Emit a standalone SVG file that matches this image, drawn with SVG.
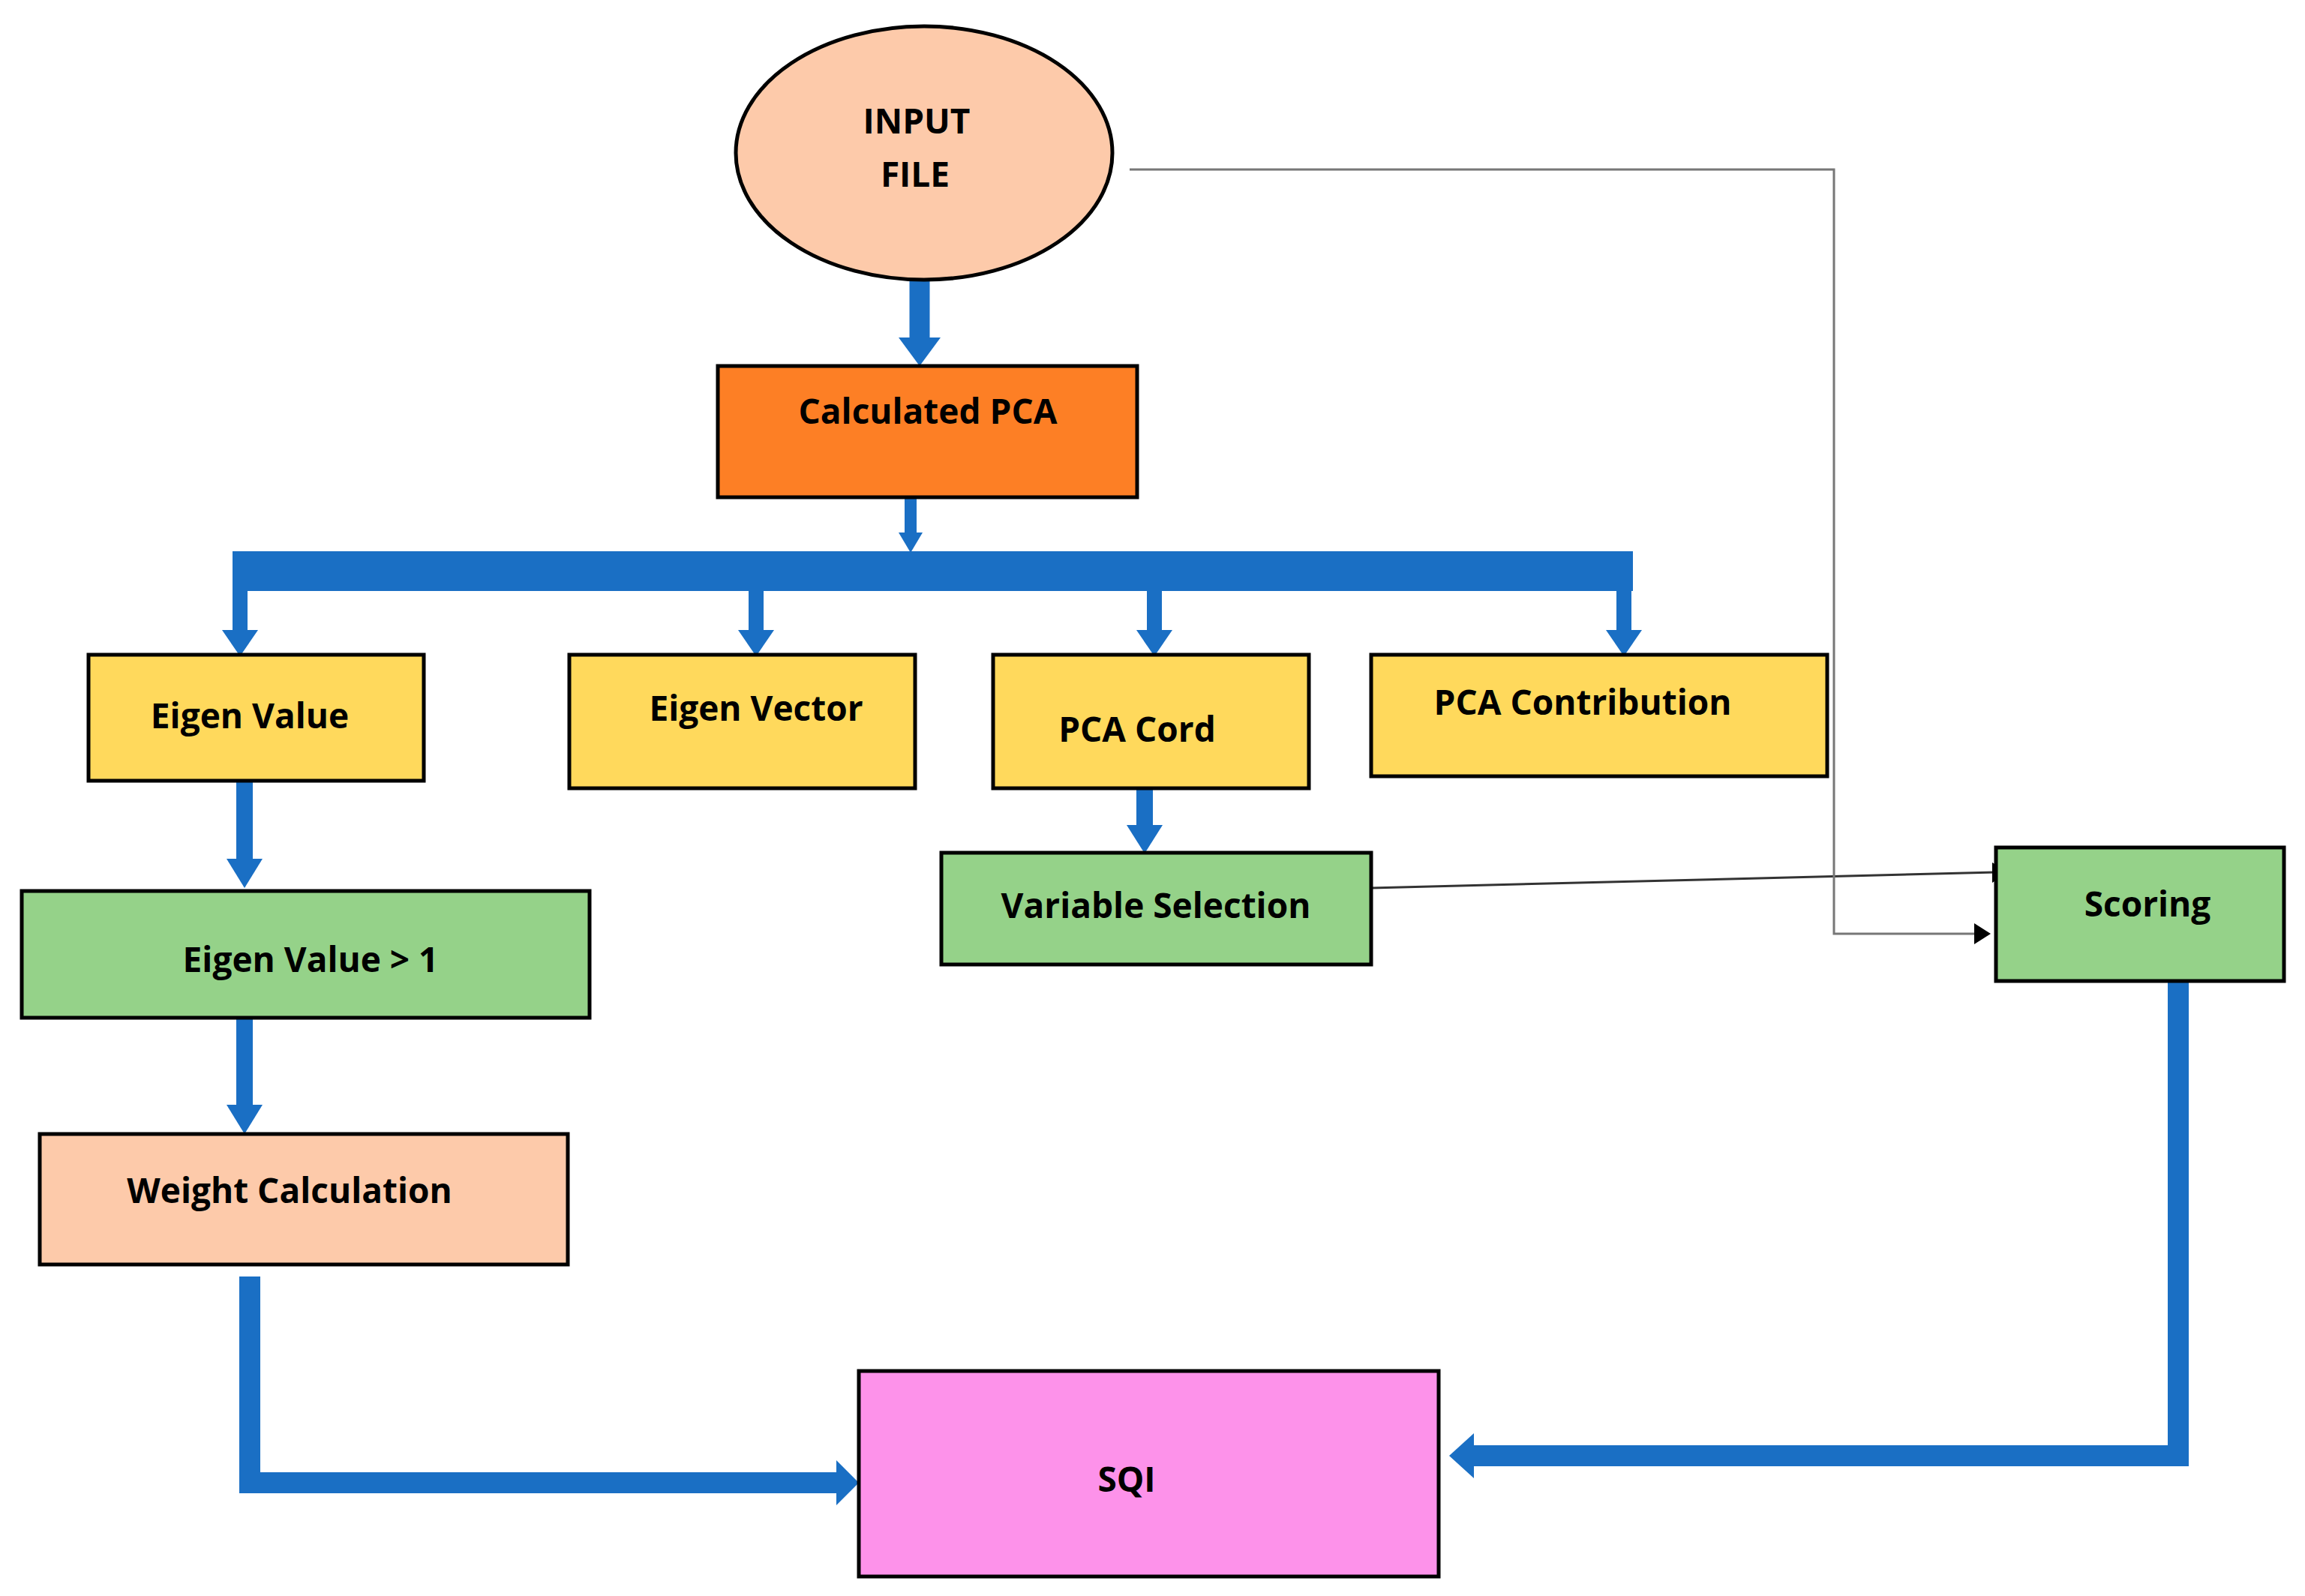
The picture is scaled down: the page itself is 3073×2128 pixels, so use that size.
<svg xmlns="http://www.w3.org/2000/svg" width="3073" height="2128" viewBox="0 0 3073 2128">
<style>
.b{stroke:#000;stroke-width:5}
.t{font-family:"Open Sans","Liberation Sans",sans-serif;font-weight:bold;font-size:46px;fill:#000;text-anchor:middle;dominant-baseline:middle}
.s{stroke:#1a6fc4;fill:none}
.h{fill:#1a6fc4}
</style>
<rect width="3073" height="2128" fill="#fff"/>
<g id="connectors">
<line class="s" x1="1226" y1="373" x2="1226" y2="455" stroke-width="27"/>
<polygon class="h" points="1198,450 1254,450 1226,488"/>
<line class="s" x1="1214" y1="663" x2="1214" y2="715" stroke-width="16"/>
<polygon class="h" points="1198,710 1230,710 1214,737"/>
<rect x="320" y="735" width="1857" height="53" class="h"/>
<line class="s" x1="320" y1="735" x2="320" y2="845" stroke-width="20"/>
<polygon class="h" points="296,840 344,840 320,875"/>
<line class="s" x1="1008" y1="784" x2="1008" y2="845" stroke-width="20"/>
<polygon class="h" points="984,840 1032,840 1008,875"/>
<line class="s" x1="1539" y1="778" x2="1539" y2="845" stroke-width="20"/>
<polygon class="h" points="1515,840 1563,840 1539,875"/>
<line class="s" x1="2165" y1="784" x2="2165" y2="845" stroke-width="20"/>
<polygon class="h" points="2141,840 2189,840 2165,875"/>
<line class="s" x1="326" y1="1041" x2="326" y2="1150" stroke-width="22"/>
<polygon class="h" points="302,1145 350,1145 326,1184"/>
<line class="s" x1="326" y1="1349" x2="326" y2="1478" stroke-width="22"/>
<polygon class="h" points="302,1473 350,1473 326,1512"/>
<line class="s" x1="1526" y1="1041" x2="1526" y2="1105" stroke-width="22"/>
<polygon class="h" points="1502,1100 1550,1100 1526,1138"/>
<line x1="1828" y1="1184" x2="2660" y2="1163" stroke="#333" stroke-width="3"/>
<polygon points="2656,1150 2677,1163 2656,1177" fill="#000"/>
<polyline points="1506,226 2445,226 2445,1245 2635,1245" fill="none" stroke="#777" stroke-width="3"/>
<polygon points="2632,1231 2654,1245 2632,1259" fill="#000"/>
<polyline class="s" points="333,1702 333,1977 1120,1977" stroke-width="28"/>
<polygon class="h" points="1115,1947 1145,1977 1115,2007"/>
<polyline class="s" points="2904,1308 2904,1941 1960,1941" stroke-width="28"/>
<polygon class="h" points="1965,1911 1932,1941 1965,1971"/>
</g>
<g id="input"><ellipse cx="1232" cy="204" rx="251" ry="169" fill="#fdcaaa" class="b"/>
<text class="t" x="1222" y="166">INPUT</text><text class="t" x="1220" y="237">FILE</text></g>
<g id="pca"><rect x="957" y="488" width="559" height="175" fill="#fd7f25" class="b"/><text class="t" x="1237" y="553">Calculated PCA</text></g>
<g id="ev"><rect x="118" y="873" width="447" height="168" fill="#ffd95c" class="b"/><text class="t" x="333" y="959">Eigen Value</text></g>
<g id="evec"><rect x="759" y="873" width="461" height="178" fill="#ffd95c" class="b"/><text class="t" x="1008" y="949">Eigen Vector</text></g>
<g id="cord"><rect x="1324" y="873" width="421" height="178" fill="#ffd95c" class="b"/><text class="t" x="1516" y="977">PCA Cord</text></g>
<g id="contrib"><rect x="1828" y="873" width="608" height="162" fill="#ffd95c" class="b"/><text class="t" x="2110" y="941">PCA Contribution</text></g>
<g id="ev1"><rect x="29" y="1188" width="757" height="169" fill="#95d289" class="b"/><text class="t" x="414" y="1284">Eigen Value &gt; 1</text></g>
<g id="wc"><rect x="53" y="1512" width="704" height="174" fill="#fdcaaa" class="b"/><text class="t" x="386" y="1592">Weight Calculation</text></g>
<g id="vs"><rect x="1255" y="1137" width="573" height="149" fill="#95d289" class="b"/><text class="t" x="1541" y="1212">Variable Selection</text></g>
<g id="scoring"><rect x="2661" y="1130" width="384" height="178" fill="#95d289" class="b"/><text class="t" x="2863" y="1210">Scoring</text></g>
<g id="sqi"><rect x="1145" y="1828" width="773" height="274" fill="#fd92ea" class="b"/><text class="t" x="1502" y="1977" font-size="62">SQI</text></g>
</svg>
